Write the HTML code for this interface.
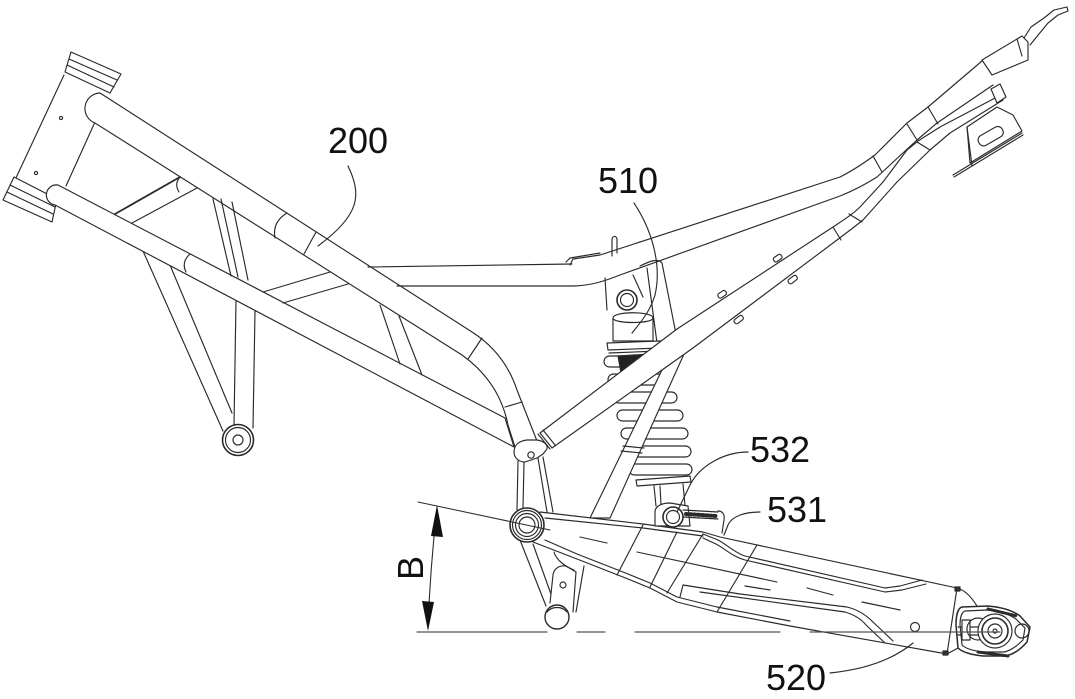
<!DOCTYPE html>
<html><head><meta charset="utf-8"><style>
html,body{margin:0;padding:0;background:#fff;}
svg{display:block;}
text{font-family:"Liberation Sans",Arial,sans-serif;fill:#111;}
</style></head><body>
<svg width="1075" height="699" viewBox="0 0 1075 699" xmlns="http://www.w3.org/2000/svg">
<rect width="1075" height="699" fill="#fff"/>
<g fill="none" stroke="#2a2a2a" stroke-width="1.15" stroke-linejoin="round" stroke-linecap="round">

<!-- head tube -->
<path d="M64,75 L15,180"/>
<path d="M95,122 L66,186"/>
<path d="M71,52 L121,74 L110,93 L65,72 Z" fill="#fff"/>
<path d="M69,59 L117,80 M67,65 L114,87"/>
<path d="M14,177 L57,199 L52,222 L3,200 Z" fill="#fff"/>
<path d="M10,185 L55,207 M7,192 L53,214"/>
<circle cx="61" cy="118" r="1.6"/>
<circle cx="36" cy="173" r="1.6"/>

<!-- front legs -->
<path d="M143,251 L223,431 M170,265 L232,413 M236,301 L234,425 M255,311 L253,428"/>
<circle cx="238" cy="440" r="15.5" fill="#fff" stroke-width="1.6"/>
<circle cx="238" cy="440" r="12.5"/>
<circle cx="238" cy="440" r="5"/>

<!-- lower tube -->
<path d="M58,185 L505,418 L514,447 L55,205 A10 10 0 0 1 58,185 Z" fill="#fff"/>
<!-- upper tube -->
<path d="M100,93 L472,332 C494,346 509,366 517,390 L537,441 L515,447 L508,425 C503,400 490,375 462,355 L95,123 A15.5 15.5 0 0 1 100,93 Z" fill="#fff"/>

<!-- braces -->
<path d="M180,177 L115,214" stroke-width="1.8"/>
<path d="M197,188 L132,223"/>
<path d="M213,199 L231,276 M221,199 L238,277 M232,202 L248,280"/>
<path d="M263,292 L330,272 M283,303 L348,284"/>
<path d="M380,305 L400,364 M399,316 L422,375"/>
<!-- welds -->
<path d="M287,213 Q272,222 275,238"/>
<path d="M316,232 L304,254"/>
<path d="M482,338 L468,359"/>
<path d="M505,407 L522,402"/>
<path d="M190,254 Q181,262 186,272"/>
<path d="M180,177 Q174,184 179,192"/>

<!-- horizontal tube and rails -->
<path d="M368,267 L572,264"/>
<path d="M397,286 L572,286 C590,286 605,281 620,275 L840,196 C855,190 866,184 877,177 L917,140 L937,123 L993,85"/>
<path d="M570,265 L573,259 L600,255 L840,177 C852,171 864,163 875,155 L907,123 L928,107 L982,61"/>
<path d="M566,262 L570,258 L600,253"/>
<path d="M982,60 L1022,36 L1028,42 L1028,60 L992,75 Z" fill="#fff"/>
<path d="M1017,39 L1022,56"/>
<path d="M1024,38 L1031,27 L1044,18 L1054,10 L1067,7 L1068,11 L1058,15 L1048,23 L1030,45"/>
<path d="M873,156 L882,172 M907,124 L917,140 M928,107 L938,124"/>

<!-- spring coils -->
<rect x="604" y="356" width="62" height="11" rx="5.5" fill="#fff"/>
<rect x="608" y="374" width="62" height="11" rx="5.5" fill="#fff"/>
<rect x="613" y="392" width="64" height="11" rx="5.5" fill="#fff"/>
<rect x="617" y="410" width="66" height="11" rx="5.5" fill="#fff"/>
<rect x="621" y="428" width="67" height="11" rx="5.5" fill="#fff"/>
<rect x="625" y="446" width="66" height="11" rx="5.5" fill="#fff"/>
<rect x="629" y="464" width="63" height="11" rx="5.5" fill="#fff"/>
<path d="M618,356 L650,354 L647,372 L621,373 Z" fill="#222"/>

<!-- shock top -->
<path d="M640,266 C650,261 658,258 662,263 L676,334"/>
<path d="M647,268 L657,343"/>
<path d="M605,278 L607,310 M633,275 L643,297"/>
<path d="M612,256 L612,240 C612,236 616,235 617,239 L617,253"/>
<path d="M613,341 L613,318 C613,311 653,311 653,318 L653,341 Z" fill="#fff"/>
<path d="M613,318 C613,324 653,324 653,318"/>
<circle cx="627" cy="300" r="10" fill="#fff" stroke-width="1.6"/>
<circle cx="627" cy="300" r="6.5"/>
<path d="M607,343 L660,341 L661,348 L608,350 Z" fill="#fff"/>
<path d="M609,353 L660,351"/>

<!-- lower shock -->
<path d="M636,480 L690,476 L691,482 L637,486 Z" fill="#fff"/>
<path d="M654,486 L656,506 M683,484 L685,505 M660,486 L661,505"/>

<!-- strut -->
<path d="M590,518 L662,370 L684,354 L610,518 Z" fill="#fff"/>
<path d="M623,446 L644,448 M621,451 L642,453"/>

<!-- lower rail -->
<path d="M540,433 L677,329 L833,227 C845,219 853,214 860,207 L883,182 L907,150 L918,141 L940,127 L997,97 L1003,100 L950,133 L930,150 L897,182 L863,220 C853,228 845,234 837,240 L693,348 L552,448 Z" fill="#fff"/>
<path d="M833,227 L841,240 M849,214 L862,222 M917,142 L930,150"/>
<path d="M538,434 L550,449 M543,430 L555,445"/>
<g fill="#fff">
<rect x="718" y="292" width="9" height="5" rx="2" transform="rotate(-35 722 295)"/>
<rect x="773" y="256" width="9" height="5" rx="2" transform="rotate(-35 777 258)"/>
<rect x="734" y="317" width="10" height="5" rx="2" transform="rotate(-38 739 320)"/>
<rect x="788" y="277" width="10" height="5" rx="2" transform="rotate(-38 793 280)"/>
</g>
<!-- rear bracket -->
<path d="M991,89 L1000,84 L1006,97 L997,103 Z" fill="#fff"/>
<path d="M967,127 L997,107 L1013,115 L1022,131 L970,163 Z" fill="#fff"/>
<rect x="977" y="131" width="27" height="11" rx="5" transform="rotate(-30 990 136)"/>
<path d="M967,127 L972,166"/>
<path d="M953,175 L1022,133 M954,177 L1023,135"/>

<!-- legs below casting -->
<path d="M518,461 L517,510 M524,462 L523,508 M538,458 L547,512 M543,457 L553,512"/>
<path d="M514,452 C514,445 519,441 527,440 L537,440 C544,441 548,445 547,449 L543,454 L537,458 L525,462 C519,462 514,458 514,452 Z" fill="#fff"/>
<circle cx="531" cy="455" r="3.2"/>

<!-- lower hanger -->
<path d="M520,540 L546,606 M533,544 L552,597"/>
<path d="M584,566 L576,612"/>
<path d="M550,603 L553,575 C554,568 560,565 566,566 L576,572 L573,612" fill="#fff"/>
<circle cx="563" cy="585" r="3"/>
<circle cx="557" cy="617" r="12" fill="#fff" stroke-width="1.4"/>
<path d="M547,612 C552,606 562,606 567,612"/>
<path d="M554,552 C556,560 566,567 574,570"/>

<!-- swingarm -->
<path d="M540,512 L643,524 L703,532 L720,537 L957,588 L947,654 L790,626 L717,612 L677,602 L650,588 L623,577 L577,559 L533,542 Z" fill="#fff"/>
<path d="M545,518 L643,528 L703,536"/>
<path d="M545,540 L577,554 L623,572 L650,583 L677,597 L717,607 L790,621"/>
<path d="M703,534 L718,540 C726,544 735,553 745,556 L885,588 L900,586 L922,580"/>
<path d="M703,538 L716,544 C724,548 733,557 745,560 L885,592 L902,590 L926,584"/>
<path d="M680,597 L683,585 L740,594 L847,607 C860,610 868,617 873,622 L893,641"/>
<path d="M700,592 L845,612 C855,615 862,620 866,625 L885,643"/>
<path d="M643,525 L617,575 M677,532 L650,587 M703,534 L667,593 M757,545 L717,612"/>
<path d="M580,537 L607,543 M637,552 L777,582 M807,588 L833,595 M862,602 L900,610 M745,586 L770,590"/>
<circle cx="915" cy="627" r="4.5"/>

<!-- swingarm end -->
<path d="M957,588 C965,590 972,598 977,606 M947,654 L958,648"/>
<path d="M962,607 L988,606 C1000,607 1012,610 1020,616 L1030,627 L1027,642 C1020,650 1012,655 1005,656 L983,656 C972,655 962,652 958,648 L956,625 C956,615 958,608 962,607 Z" fill="#fff" stroke-width="1.5"/>
<path d="M965,611 L987,610 C998,611 1009,614 1016,619 L1025,628 L1023,640 C1017,646 1010,651 1004,652 L984,652 C974,651 966,649 962,645 L960,625 C960,617 962,612 965,611 Z"/>
<path d="M958,627 L983,627 M958,635 L983,635"/>
<rect x="962" y="620" width="8" height="20" fill="#fff"/>
<circle cx="1022" cy="631" r="7"/>
<circle cx="978" cy="629" r="11"/>
<circle cx="995" cy="631" r="17" fill="#fff"/>
<circle cx="995" cy="631" r="13" stroke-width="1.6"/>
<circle cx="995" cy="631" r="7"/>
<circle cx="995" cy="631" r="2"/>
<path d="M988,609 L1017,616" stroke-width="3" stroke-dasharray="1.5 1.5"/>
<path d="M978,652 L1008,656" stroke-width="3" stroke-dasharray="1.5 1.5"/>
<rect x="955" y="587" width="5" height="4" fill="#333"/>
<rect x="943" y="651" width="5" height="4" fill="#333"/>

<!-- pivot -->
<circle cx="527" cy="525" r="17" fill="#fff" stroke-width="1.6"/>
<circle cx="527" cy="525" r="14.5"/>
<circle cx="527" cy="525" r="11.5"/>
<circle cx="527" cy="525" r="8"/>

<!-- 531 bracket & lower eye -->
<path d="M655,526 L655,512 C655,506 662,503 670,503 L688,506 L690,526 Z" fill="#fff"/>
<path d="M683,510 L718,512 M683,517 L718,519"/>
<path d="M686,514 L716,516" stroke-width="4" stroke-dasharray="1.5 2.5"/>
<path d="M718,511 C723,511 725,515 724,520 L722,533"/>
<circle cx="673" cy="517" r="10" fill="#fff" stroke-width="1.6"/>
<circle cx="673" cy="517" r="6.5"/>

<!-- reference lines -->
<path d="M418,502 L550,530" stroke-width="1"/>
<path d="M417,632 L547,632 M577,632 L605,632 M635,632 L780,632 M810,632 L1000,632" stroke="#555" stroke-width="1.2"/>
<path d="M437,508 Q430,570 428,628" stroke-width="1.1"/>

<!-- leaders -->
<path d="M348,166 C362,195 360,215 318,246"/>
<path d="M634,203 C652,230 662,265 655,295 C650,312 640,323 632,333"/>
<path d="M748,452 C725,452 700,465 690,485 L677,512"/>
<path d="M760,512 C745,512 732,516 728,525 L724,535"/>
<path d="M830,673 C860,670 890,662 913,643"/>
</g>

<!-- arrowheads -->
<path d="M437,505 L431,536 L443,537 Z" fill="#111"/>
<path d="M428,631 L422,601 L434,602 Z" fill="#111"/>

<!-- labels -->
<text x="328" y="153" font-size="36">200</text>
<text x="598" y="193" font-size="36">510</text>
<text x="750" y="462" font-size="36">532</text>
<text x="767" y="522" font-size="36">531</text>
<text x="766" y="690" font-size="36">520</text>
<text transform="translate(423,580) rotate(-90)" font-size="36">B</text>
</svg>
</body></html>
